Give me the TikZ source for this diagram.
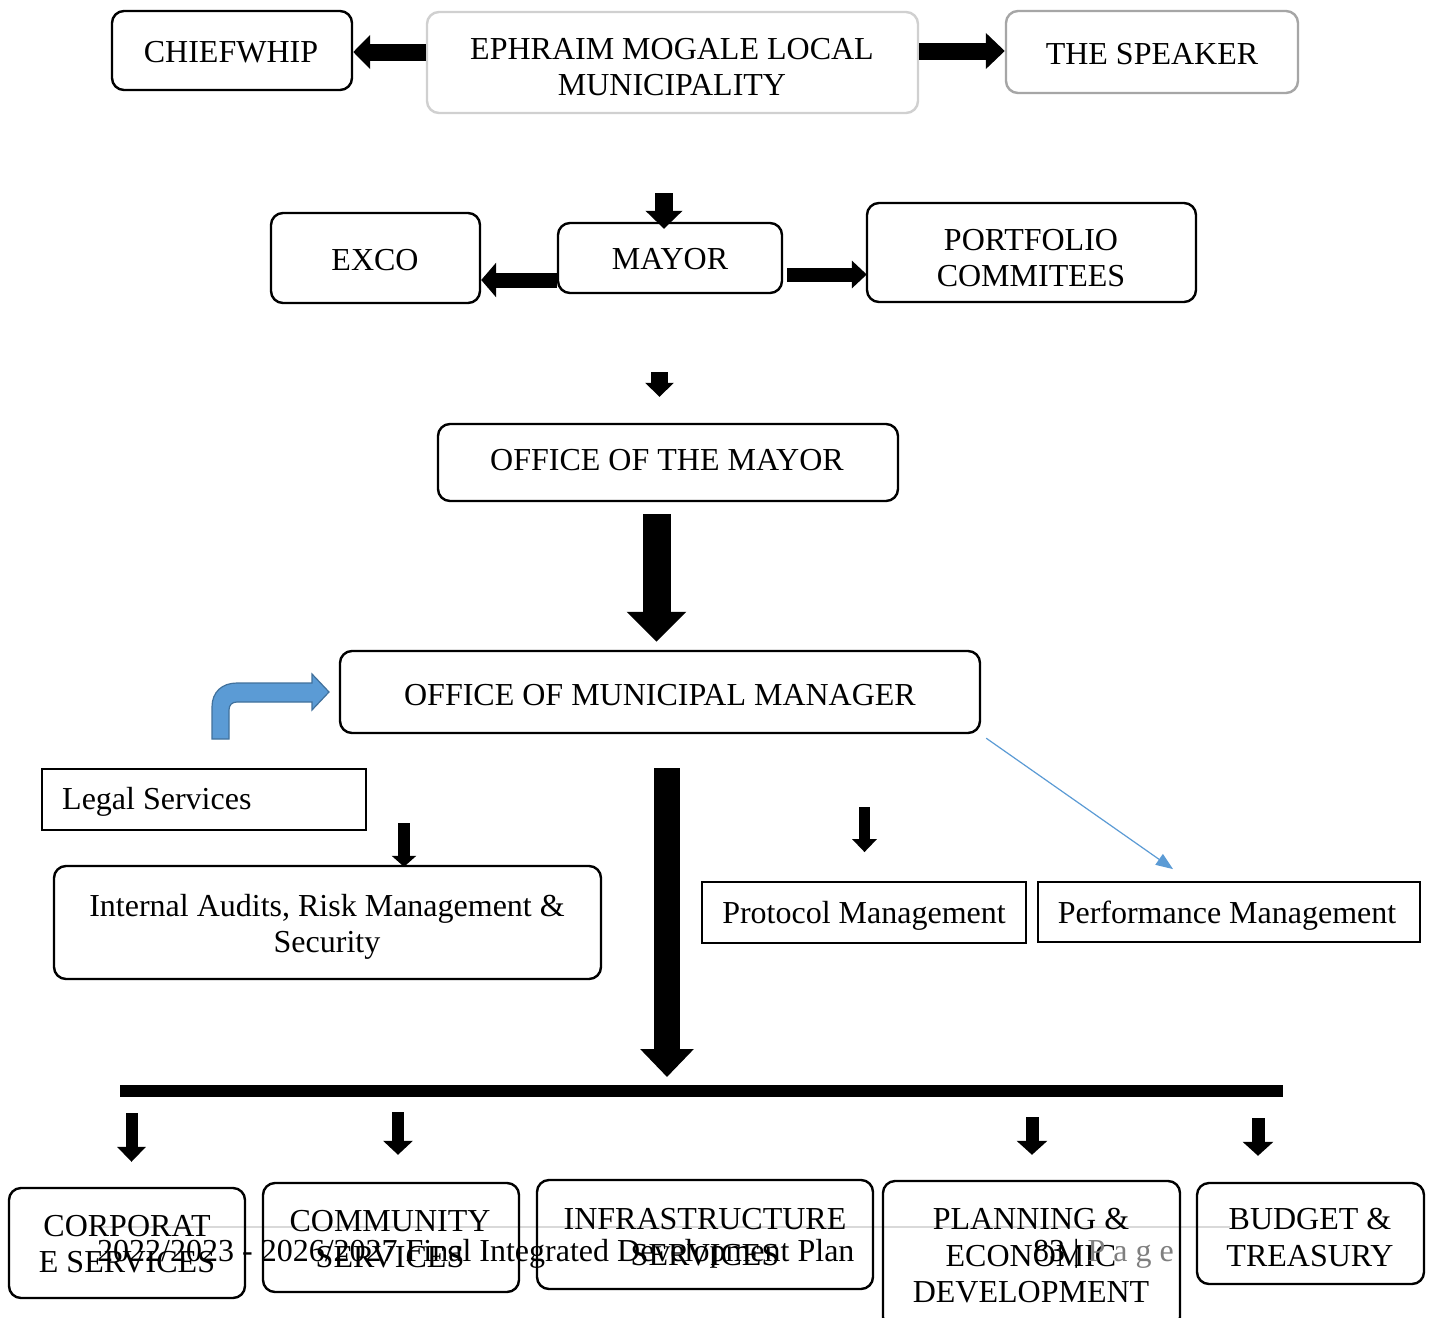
\documentclass[tikz,border=0pt]{standalone}
\usepackage{fontspec}
\setmainfont{Liberation Serif}
\usetikzlibrary{arrows.meta,fit}
\definecolor{blueA}{HTML}{5B9BD5}
\definecolor{blueB}{HTML}{41719C}
\definecolor{lgray}{HTML}{D0D0D0}
\definecolor{mgray}{HTML}{A6A6A6}
\definecolor{fgray}{HTML}{D9D9D9}
\definecolor{pgray}{HTML}{7F7F7F}
\begin{document}
\begin{tikzpicture}[x=1pt,y=-1pt,
  rbox/.style={draw=black, line width=2.4pt, rounded corners=12pt, inner sep=0pt},
  sbox/.style={draw=black, line width=1.8pt, inner sep=0pt},
  txt/.style={inner sep=0pt, font=\fontsize{32}{36.5}\selectfont, align=center},
  barrow/.style n args={3}{line width=#1, -{Triangle[length=#3,width=#2]}},
  thinblue/.style={draw=blueA, line width=1.2pt, -{Triangle[length=17pt,width=13pt]}},
]
\useasboundingbox (0,0) rectangle (1431,1317);
\fill[white] (0,0) rectangle (1431,1317);
\clip (0,0) rectangle (1431,1317);

% footer line (behind everything)
\draw[fgray, line width=1.3pt] (97,1227) -- (1230,1227);

% boxes
\node[rbox, fit={(112,11) (352,90)}] (chief) {};
\node[rbox, draw=lgray, fit={(427,12) (918,113)}] (eph) {};
\node[rbox, draw=mgray, fit={(1006,11) (1298,93)}] (spk) {};
\node[rbox, fit={(271,213) (480,303)}] (exco) {};
\node[rbox, fit={(558,223) (782,293)}] (mayor) {};
\node[rbox, fit={(867,203) (1196,302)}] (port) {};
\node[rbox, fit={(438,424) (898,501)}] (om) {};
\node[rbox, fit={(340,651) (980,733)}] (mm) {};
\node[sbox, fit={(42,769) (366,830)}] (legal) {};
\node[rbox, fit={(54,866) (601,979)}] (ia) {};
\node[sbox, fit={(702,882) (1026,943)}] (prot) {};
\node[sbox, fit={(1038,882) (1420,942)}] (perf) {};
\node[rbox, fit={(9,1188) (245,1298)}] (corp) {};
\node[rbox, fit={(263,1183) (519,1292)}] (comm) {};
\node[rbox, fit={(537,1180) (873,1289)}] (infra) {};
\node[rbox, fit={(883,1181) (1180,1329)}] (plan) {};
\node[rbox, fit={(1197,1183) (1424,1284)}] (budg) {};

% free ends
\coordinate (cA3) at (664,193);
\coordinate (cA6) at (659.5,372);
\coordinate (cA8) at (404,823);
\coordinate (cA9) at (667,1077);
\coordinate (cA10) at (864.5,807);
\coordinate (hbL) at (120,1091);
\coordinate (hbR) at (1283,1091);
\coordinate (cB1) at (131.5,1113);
\coordinate (cB2) at (398,1112);
\coordinate (cB3) at (1032,1117);
\coordinate (cB4) at (1258,1118);

% block arrows
\draw[barrow={17pt}{33pt}{17pt}] ([yshift=10.5pt]eph.west) -- ([yshift=-1.5pt]chief.east);
\draw[barrow={17pt}{35pt}{19pt}] ([yshift=11.5pt]eph.east) -- ([yshift=1pt]spk.west);
\draw[barrow={18pt}{36pt}{18pt}] (cA3) -- ([xshift=-6pt,yshift=-7pt]mayor.north);
\draw[barrow={15pt}{34pt}{15pt}] ([yshift=-22pt]mayor.west) -- ([yshift=-22pt]exco.east);
\draw[barrow={14pt}{27pt}{15pt}] ([xshift=4pt,yshift=-16.5pt]mayor.east) -- ([xshift=1pt,yshift=-22pt]port.west);
\draw[barrow={17pt}{28pt}{14pt}] (cA6) -- ([xshift=-8.5pt,yshift=26pt]om.north);
\draw[barrow={28pt}{58pt}{30pt}] ([xshift=-11.5pt,yshift=-12pt]om.south) -- ([xshift=-3.5pt,yshift=8pt]mm.north);
\draw[barrow={12pt}{24pt}{11pt}] (cA8) -- ([xshift=76.5pt,yshift=-2pt]ia.north);
\draw[barrow={26pt}{52pt}{28pt}] ([xshift=7pt,yshift=-34pt]mm.south) -- (cA9);
\draw[barrow={11pt}{24pt}{13pt}] (cA10) -- ([xshift=0.5pt,yshift=29pt]prot.north);
\draw[thinblue] ([xshift=5pt,yshift=-4pt]mm.south east) -- ([xshift=-56pt,yshift=12pt]perf.north);
\draw[line width=12pt] (hbL) -- (hbR);
\draw[barrow={12pt}{28pt}{15pt}] (cB1) -- ([xshift=4.5pt,yshift=25pt]corp.north);
\draw[barrow={12pt}{29pt}{14pt}] (cB2) -- ([xshift=7pt,yshift=27pt]comm.north);
\draw[barrow={13pt}{30pt}{14pt}] (cB3) -- ([xshift=0.5pt,yshift=25pt]plan.north);
\draw[barrow={13pt}{30pt}{14pt}] (cB4) -- ([xshift=-52.5pt,yshift=26pt]budg.north);

% blue bent arrow
\filldraw[fill=blueA, draw=blueB, line width=1.2pt]
  (212,739) -- (212,707) .. controls (212,692) and (222,683) .. (237,683)
  -- (312,683) -- (312,674) -- (329,692) -- (312,710) -- (312,702)
  -- (237,702) .. controls (232,702) and (229,705) .. (229,710)
  -- (229,739) -- cycle;

% texts
\node[txt, anchor=base] (tchief) at (231,62) {CHIEFWHIP};
\node[txt, anchor=north] (teph) at (672,38) {EPHRAIM MOGALE LOCAL\\MUNICIPALITY};
\node[txt, anchor=base] (tspk) at (1152,64) {THE SPEAKER};
\node[txt, anchor=base] (texco) at (375,270) {EXCO};
\node[txt, anchor=base] (tmayor) at (670,269) {MAYOR};
\node[txt, anchor=north] (tport) at (1031,229) {PORTFOLIO\\COMMITEES};
\node[txt, anchor=base] (tom) at (667,470) {OFFICE OF THE MAYOR};
\node[txt, anchor=base] (tmm) at (660,705) {OFFICE OF MUNICIPAL MANAGER};
\node[txt, anchor=base west] (tlegal) at (62,809) {Legal Services};
\node[txt, anchor=north] (tia) at (327,894) {Internal Audits, Risk Management \&\\Security};
\node[txt, anchor=base] (tprot) at (864,923) {Protocol Management};
\node[txt, anchor=base] (tperf) at (1227,923) {Performance Management};
\node[txt, anchor=north] (tcorp) at (127,1215) {CORPORAT\\E SERVICES};
\node[txt, anchor=north] (tcomm) at (390,1210) {COMMUNITY\\SERVICES};
\node[txt, anchor=north] (tinfra) at (705,1208) {INFRASTRUCTURE\\SERVICES};
\node[txt, anchor=north] (tplan) at (1031,1208) {PLANNING \&\\ECONOMIC\\DEVELOPMENT};
\node[txt, anchor=north] (tbudg) at (1310,1208) {BUDGET \&\\TREASURY};

% footer
\node[txt, anchor=base west] (foot) at (97,1261) {2022/2023 - 2026/2027 Final Integrated Development Plan};
\node[txt, anchor=base west] (pg) at (1033,1261) {83 | \textcolor{pgray}{P a g e}};
\end{tikzpicture}
\end{document}
